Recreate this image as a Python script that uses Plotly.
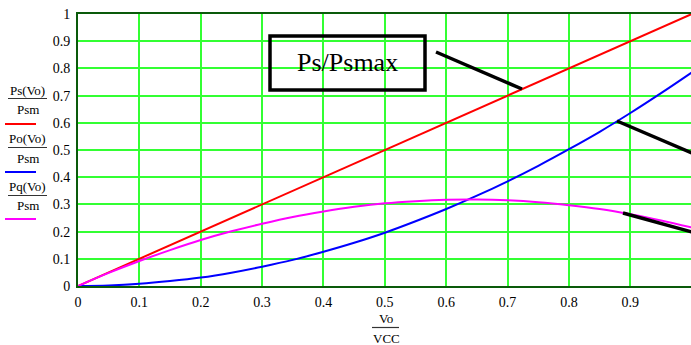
import plotly.graph_objects as go

# ---- data ----
vo_vcc = [0, 0.05, 0.10, 0.15, 0.20, 0.25, 0.30, 0.35, 0.40, 0.45, 0.50,
          0.55, 0.60, 0.65, 0.70, 0.75, 0.80, 0.85, 0.90, 0.95, 1.00]
ps_psm = [0, 0.05, 0.10, 0.15, 0.20, 0.25, 0.30, 0.35, 0.40, 0.45, 0.50,
          0.55, 0.60, 0.65, 0.70, 0.75, 0.80, 0.85, 0.90, 0.95, 1.00]
po_psm = [0, 0.002, 0.008, 0.018, 0.031, 0.049, 0.071, 0.096, 0.126, 0.159, 0.196,
          0.238, 0.283, 0.332, 0.385, 0.442, 0.503, 0.567, 0.636, 0.709, 0.785]
pq_psm = [0, 0.048, 0.092, 0.132, 0.169, 0.201, 0.229, 0.254, 0.274, 0.291, 0.304,
          0.312, 0.317, 0.318, 0.315, 0.308, 0.297, 0.283, 0.264, 0.241, 0.215]
x_ticks = [0, 0.1, 0.2, 0.3, 0.4, 0.5, 0.6, 0.7, 0.8, 0.9]
x_tick_labels = ["0", "0.1", "0.2", "0.3", "0.4", "0.5", "0.6", "0.7", "0.8", "0.9"]
y_ticks = [0, 0.1, 0.2, 0.3, 0.4, 0.5, 0.6, 0.7, 0.8, 0.9, 1.0]
y_tick_labels = ["0", "0.1", "0.2", "0.3", "0.4", "0.5", "0.6", "0.7", "0.8", "0.9", "1"]

SERIF = "Liberation Serif, Times New Roman, serif"
W, H = 691, 345
L, T, B = 78, 14, 59
PW, PH = W - L, H - T - B


def X(px):
    return (px - L) / PW


def Y(py):
    return (H - B - py) / PH


fig = go.Figure()
fig.add_trace(go.Scatter(x=vo_vcc, y=ps_psm, mode="lines", line=dict(color="#ff0000", width=2)))
fig.add_trace(go.Scatter(x=vo_vcc, y=po_psm, mode="lines", line=dict(color="#0000ff", width=2, shape="spline")))
fig.add_trace(go.Scatter(x=vo_vcc, y=pq_psm, mode="lines", line=dict(color="#ff00ff", width=2, shape="spline")))

shapes = []
annotations = []

# legend-like labels on the left
legend = [("Ps(Vo)", 90, 98.5, 109, 124, "#ff0000"),
          ("Po(Vo)", 138, 147.5, 158, 172, "#0000ff"),
          ("Pq(Vo)", 186, 195.5, 206, 219, "#ff00ff")]
for name, ty, by, dy, ly, col in legend:
    annotations.append(dict(x=X(27.5), y=Y(ty), xref="paper", yref="paper", text=name,
                            showarrow=False, font=dict(family=SERIF, size=13, color="#000"),
                            xanchor="center", yanchor="middle"))
    shapes.append(dict(type="line", xref="paper", yref="paper", x0=X(8), x1=X(47), y0=Y(by), y1=Y(by),
                       line=dict(color="#333", width=1.2)))
    annotations.append(dict(x=X(27.5), y=Y(dy), xref="paper", yref="paper", text="Psm",
                            showarrow=False, font=dict(family=SERIF, size=13, color="#000"),
                            xanchor="center", yanchor="middle"))
    shapes.append(dict(type="line", xref="paper", yref="paper", x0=X(5), x1=X(36), y0=Y(ly), y1=Y(ly),
                       line=dict(color=col, width=2)))

# x-axis fraction title
annotations.append(dict(x=X(386), y=Y(318), xref="paper", yref="paper", text="Vo", showarrow=False,
                        font=dict(family=SERIF, size=13, color="#000"), xanchor="center", yanchor="middle"))
shapes.append(dict(type="line", xref="paper", yref="paper", x0=X(372), x1=X(399), y0=Y(327.5), y1=Y(327.5),
                   line=dict(color="#333", width=1.2)))
annotations.append(dict(x=X(386), y=Y(338), xref="paper", yref="paper", text="VCC", showarrow=False,
                        font=dict(family=SERIF, size=13, color="#000"), xanchor="center", yanchor="middle"))

# Ps/Psmax box
shapes.append(dict(type="rect", xref="paper", yref="paper", x0=X(270), x1=X(425), y0=Y(36), y1=Y(90),
                   line=dict(color="#000", width=3.5), fillcolor="rgba(255,255,255,0)"))
annotations.append(dict(x=X(347), y=Y(62), xref="paper", yref="paper", text="Ps/Psmax", showarrow=False,
                        font=dict(family=SERIF, size=26, color="#000"), xanchor="center", yanchor="middle"))

# pointer lines
for x0, y0, x1, y1 in [(436, 52, 522, 89), (617, 121, 692, 153), (623, 213, 692, 232)]:
    shapes.append(dict(type="line", xref="paper", yref="paper", x0=X(x0), y0=Y(y0), x1=X(x1), y1=Y(y1),
                       line=dict(color="#000", width=3.5)))

fig.update_layout(
    width=W, height=H,
    margin=dict(l=L, r=0, t=T, b=B),
    paper_bgcolor="white", plot_bgcolor="white",
    showlegend=False,
    shapes=shapes, annotations=annotations,
    xaxis=dict(range=[0, 0.9988], tickvals=x_ticks, ticktext=x_tick_labels,
               showgrid=True, gridcolor="#33ff33", gridwidth=1.5,
               zeroline=False, showline=True, linecolor="#0a5a0a", linewidth=2, mirror=True,
               ticks="", tickfont=dict(family=SERIF, size=14, color="#000"), ticklabelstandoff=2),
    yaxis=dict(range=[0, 1], tickvals=y_ticks, ticktext=y_tick_labels,
               showgrid=True, gridcolor="#33ff33", gridwidth=1.5,
               zeroline=False, showline=True, linecolor="#0a5a0a", linewidth=2, mirror=False,
               ticks="", tickfont=dict(family=SERIF, size=14, color="#000"), ticklabelstandoff=3),
)

fig.write_html("out.html")
